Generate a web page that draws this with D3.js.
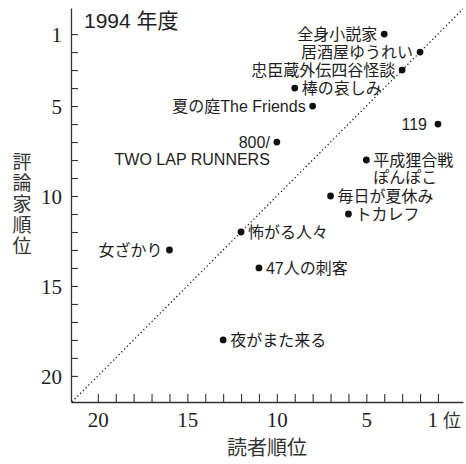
<!DOCTYPE html>
<html>
<head>
<meta charset="utf-8">
<script src="https://cdn.jsdelivr.net/npm/d3@7"></script>
<style>
  html, body { margin: 0; padding: 0; background: #fff; }
  svg { display: block; }
</style>
</head>
<body>
<script>
// ---- data ----
const titles = ["全身小説家", "居酒屋ゆうれい", "忠臣蔵外伝四谷怪談", "棒の哀しみ", "夏の庭The Friends", "119",
  "800/\nTWO LAP RUNNERS", "平成狸合戦\nぽんぽこ", "毎日が夏休み", "トカレフ", "怖がる人々", "女ざかり", "47人の刺客", "夜がまた来る"];
const readerRank = [4, 2, 3, 9, 8, 1, 10, 5, 7, 6, 12, 16, 11, 13];
const criticRank = [1, 2, 3, 4, 5, 6, 7, 8, 10, 11, 12, 13, 14, 18];
const tickRanks = d3.range(1, 21);
const labelledTicks = [1, 5, 10, 15, 20];
const rankUnit = "位";
const titleText = "1994 年度";
const xAxisTitle = "読者順位";
const yAxisTitle = "評論家順位";

// ---- layout ----
const W = 466, H = 464;
const labelLeft = new Set(["全身小説家", "居酒屋ゆうれい", "忠臣蔵外伝四谷怪談", "夏の庭The Friends", "119", "800/\nTWO LAP RUNNERS", "女ざかり"]);
const sansFont = "'Liberation Sans', Arial, 'Noto Sans CJK JP', sans-serif";
const serifFont = "'Liberation Serif', 'Times New Roman', serif";
const cjkFont = "'Noto Sans CJK JP', sans-serif";
const ink = "#1e1e1e";

const svg = d3.select("body").append("svg").attr("width", W).attr("height", H);

const x = d3.scaleLinear().domain([21.5, -0.4]).range([71, 463]);
const y = d3.scaleLinear().domain([-0.45, 21.45]).range([8, 402]);

// axes
const yAxis = d3.axisLeft(y).tickValues(tickRanks)
  .tickFormat(d => labelledTicks.includes(d) ? d : "")
  .tickSizeInner(-7).tickSizeOuter(0).tickPadding(9);
const gy = svg.append("g").attr("transform", "translate(71,0)").call(yAxis);

const xAxis = d3.axisBottom(x).tickValues(tickRanks)
  .tickFormat(d => labelledTicks.includes(d) ? d : "")
  .tickSizeInner(-8).tickSizeOuter(0).tickPadding(10);
const gx = svg.append("g").attr("transform", "translate(0,402)").call(xAxis);

[gx, gy].forEach(g => {
  g.select(".domain").attr("stroke", "#333").attr("stroke-width", 1.3);
  g.selectAll(".tick line").attr("stroke", "#333").attr("stroke-width", 1.1);
  g.selectAll(".tick text").attr("fill", ink).attr("font-family", serifFont).attr("font-size", 21);
});
gy.selectAll(".tick text").attr("dy", "0.34em");
// "1 位" label on the x axis
gx.selectAll(".tick text").filter(d => d === 1)
  .attr("text-anchor", "middle").attr("dx", -6)
  .append("tspan").attr("dx", 5).attr("font-family", cjkFont).attr("font-size", 18).attr("fill", "#333")
  .text(rankUnit);
gx.selectAll(".tick text").filter(d => d === 1).attr("text-anchor", "start").attr("dx", -11);

// diagonal dotted line
svg.append("line")
  .attr("x1", x(21.45)).attr("y1", y(21.45))
  .attr("x2", x(-0.4)).attr("y2", y(-0.4))
  .attr("stroke", "#222").attr("stroke-width", 1.3)
  .attr("stroke-dasharray", "1.3,2.6");

// points
const pts = titles.map((t, i) => ({ t, rx: readerRank[i], ry: criticRank[i] }));
svg.append("g").selectAll("circle").data(pts).join("circle")
  .attr("cx", d => x(d.rx)).attr("cy", d => y(d.ry)).attr("r", 3.4).attr("fill", "#111");

// labels
const lab = svg.append("g").attr("font-family", sansFont).attr("font-size", 16).attr("fill", ink);
pts.forEach(d => {
  const left = labelLeft.has(d.t);
  const lines = d.t.split("\n");
  const off = d.t === "119" ? 11 : 7;
  const tx = x(d.rx) + (left ? -off : off);
  const text = lab.append("text")
    .attr("x", tx).attr("y", y(d.ry))
    .attr("text-anchor", left ? "end" : "start");
  lines.forEach((ln, k) => {
    text.append("tspan").attr("x", tx).attr("dy", k === 0 ? "0.36em" : "1.08em").text(ln);
  });
});

// title
svg.append("text").attr("x", 84).attr("y", 28)
  .attr("font-family", sansFont).attr("font-size", 21).attr("fill", ink)
  .text(titleText);

// x-axis title
svg.append("text").attr("x", 267).attr("y", 455).attr("text-anchor", "middle")
  .attr("font-family", cjkFont).attr("font-size", 20).attr("fill", "#333")
  .text(xAxisTitle);

// y-axis title (vertical)
svg.append("text")
  .attr("x", 22).attr("y", 152)
  .attr("font-family", cjkFont).attr("font-size", 19).attr("fill", "#333")
  .style("writing-mode", "vertical-rl").style("text-orientation", "upright")
  .attr("letter-spacing", 2)
  .text(yAxisTitle);
</script>
</body>
</html>
